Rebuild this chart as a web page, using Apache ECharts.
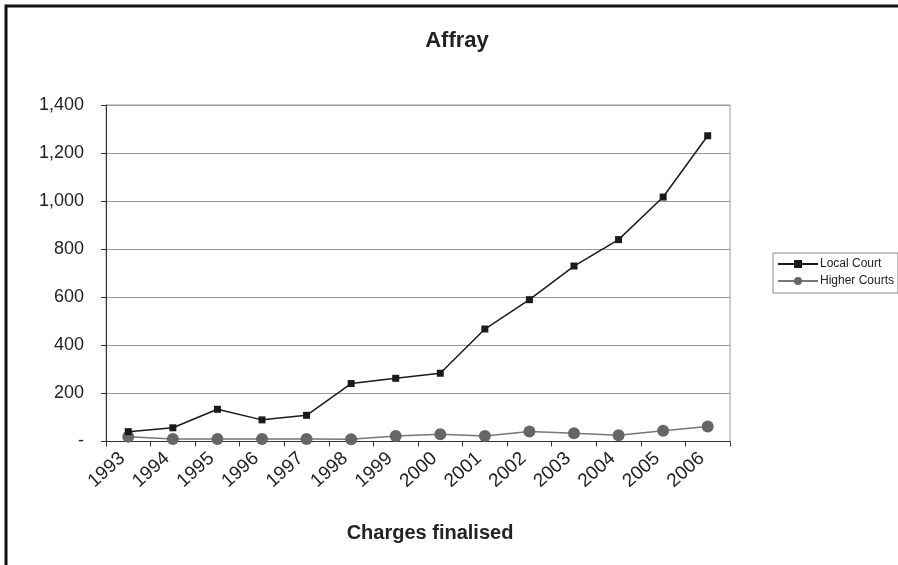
<!DOCTYPE html>
<html>
<head>
<meta charset="utf-8">
<script src="https://cdn.jsdelivr.net/npm/echarts@6/dist/echarts.min.js"></script>
<style>
  html, body { margin: 0; padding: 0; background: #fff; }
  #chart { width: 898px; height: 565px; }
</style>
</head>
<body>
<div id="chart"></div>
<script>
var years = ['1993', '1994', '1995', '1996', '1997', '1998', '1999',
  '2000', '2001', '2002', '2003', '2004', '2005', '2006'];
var localCourt = [41, 57, 134, 90, 109, 241, 263, 284, 468, 590, 730, 840, 1017, 1272];
var higherCourts = [20, 10, 10, 10, 10, 9, 23, 30, 23, 42, 34, 26, 45, 62];

var font = '"Liberation Sans", Arial, sans-serif';

var chart = echarts.init(document.getElementById('chart'), null, { renderer: 'canvas' });
chart.setOption({
  backgroundColor: '#fff',
  animation: false,
  textStyle: { fontFamily: font },
  title: {
    text: 'Affray',
    left: 452,
    top: 25,
    textAlign: 'center',
    textStyle: { fontSize: 22, fontWeight: 'bold', color: '#222', fontFamily: font }
  },
  legend: {
    orient: 'vertical',
    left: 773,
    top: 253,
    padding: [5, 4, 6, 4],
    itemGap: 5,
    itemWidth: 40,
    itemHeight: 10,
    borderColor: '#888',
    borderWidth: 1,
    textStyle: { fontSize: 12, color: '#222', fontFamily: font, padding: [0, 0, 0, -3] },
    data: ['Local Court', 'Higher Courts']
  },
  grid: { left: 106, right: 168, top: 105, bottom: 123.5, show: true, borderColor: '#999', borderWidth: 1 },
  xAxis: {
    type: 'category',
    data: years,
    boundaryGap: true,
    name: 'Charges finalised',
    nameLocation: 'middle',
    nameGap: 82,
    nameTextStyle: { fontSize: 20, fontWeight: 'bold', color: '#222', fontFamily: font, padding: [0, 0, 0, 24] },
    axisLine: { lineStyle: { color: '#333', width: 1 } },
    axisTick: { show: true, alignWithLabel: false, length: 5, lineStyle: { color: '#333' } },
    axisLabel: {
      rotate: 42, fontSize: 19, color: '#222', margin: 9, interval: 0, fontFamily: font,
      padding: [0, 8, 0, 0]
    },
    splitLine: { show: false }
  },
  yAxis: {
    type: 'value',
    min: 0,
    max: 1400,
    interval: 200,
    axisLine: { show: true, lineStyle: { color: '#333', width: 1 } },
    axisTick: { show: true, length: 5, lineStyle: { color: '#333' } },
    axisLabel: {
      fontSize: 18, color: '#222', margin: 22, fontFamily: font,
      formatter: function (v) { return v === 0 ? '-' : v.toLocaleString('en-US'); }
    },
    splitLine: { show: true, lineStyle: { color: '#999', width: 1 } }
  },
  series: [
    {
      name: 'Local Court',
      type: 'line',
      data: localCourt,
      symbol: 'rect',
      symbolSize: 7,
      itemStyle: { color: '#1a1a1a' },
      lineStyle: { color: '#1a1a1a', width: 1.5 },
      z: 3
    },
    {
      name: 'Higher Courts',
      type: 'line',
      data: higherCourts,
      symbol: 'circle',
      symbolSize: 12,
      itemStyle: { color: '#666' },
      lineStyle: { color: '#777', width: 1.5 },
      z: 2
    }
  ],
  graphic: [
    {
      type: 'polyline',
      shape: { points: [[6, 565], [6, 6], [898, 6]] },
      style: { stroke: '#111', lineWidth: 3, fill: null }
    }
  ]
});
</script>
</body>
</html>
